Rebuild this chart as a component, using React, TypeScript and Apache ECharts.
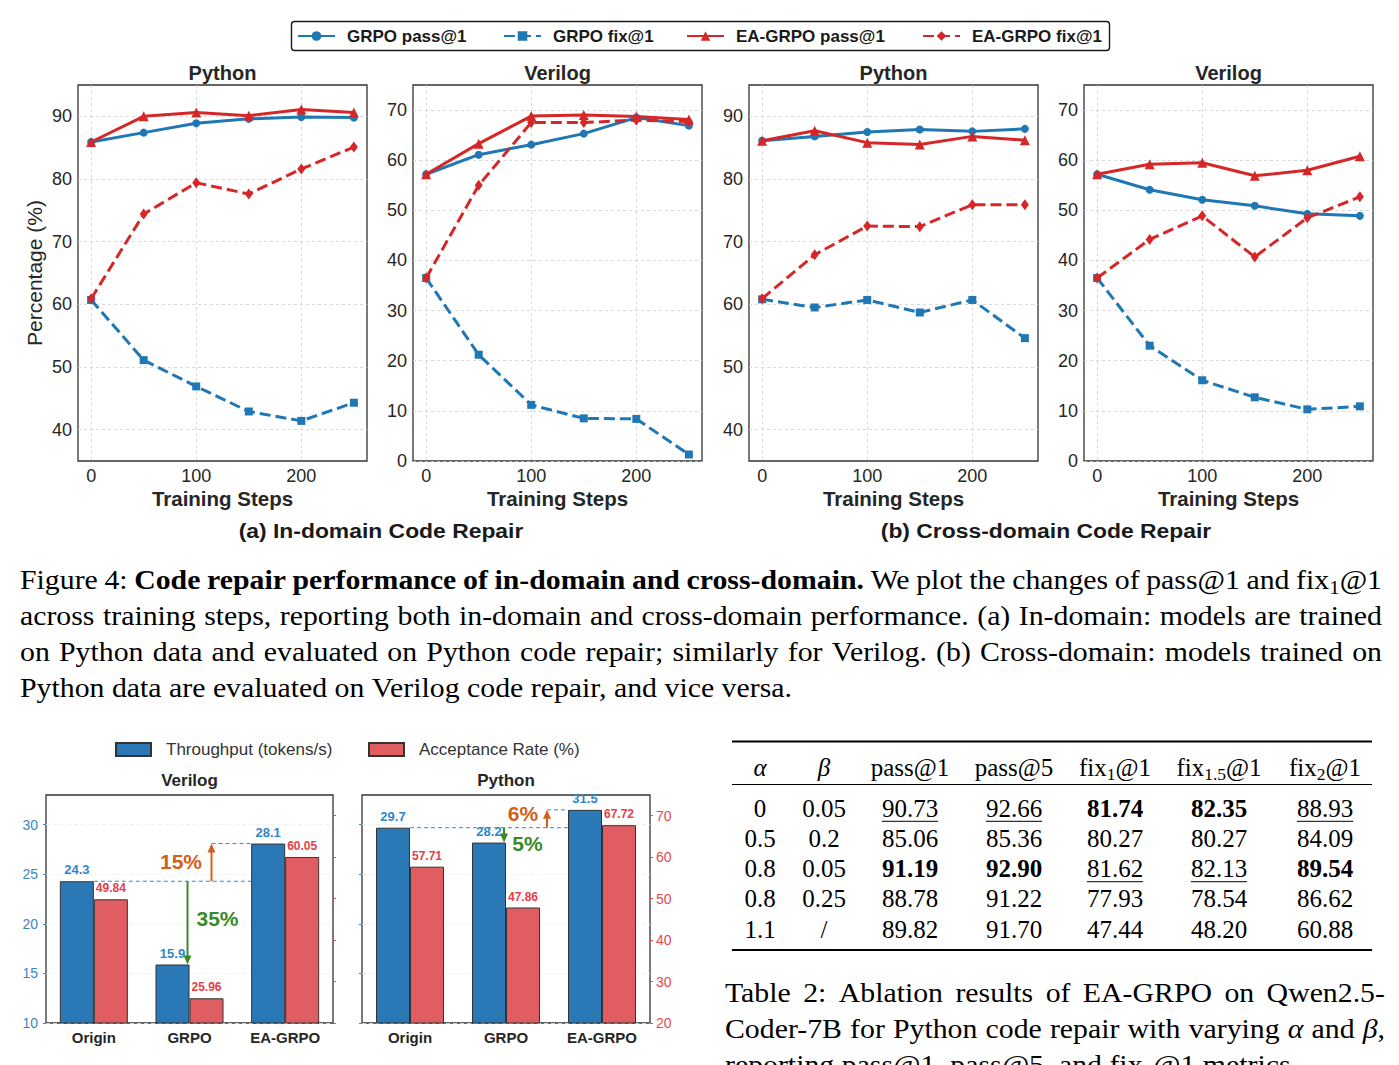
import React, { useEffect, useRef } from 'react';
import * as echarts from 'echarts';

// ---------------- data ----------------
const STEPS = [0, 50, 100, 150, 200, 250];
const STEP_TICKS = [0, 100, 200];
const PYTHON_TICKS = [40, 50, 60, 70, 80, 90];
const VERILOG_TICKS = [0, 10, 20, 30, 40, 50, 60, 70];

const SERIES_NAMES = ['GRPO pass@1', 'GRPO fix@1', 'EA-GRPO pass@1', 'EA-GRPO fix@1'];

// (a) in-domain, Python
const IN_PY_GRPO_PASS = [85.9, 87.4, 88.9, 89.6, 89.9, 89.8];
const IN_PY_GRPO_FIX = [60.7, 51.1, 46.9, 42.9, 41.4, 44.3];
const IN_PY_EA_PASS = [85.9, 90.0, 90.6, 90.1, 91.1, 90.6];
const IN_PY_EA_FIX = [60.9, 74.4, 79.4, 77.6, 81.6, 85.1];
// (a) in-domain, Verilog
const IN_VL_GRPO_PASS = [57.2, 61.1, 63.1, 65.3, 68.5, 66.9];
const IN_VL_GRPO_FIX = [36.5, 21.2, 11.2, 8.5, 8.4, 1.3];
const IN_VL_EA_PASS = [57.2, 63.3, 68.8, 69.0, 68.7, 68.1];
const IN_VL_EA_FIX = [36.5, 55.0, 67.5, 67.5, 68.0, 67.7];
// (b) cross-domain, Python
const CR_PY_GRPO_PASS = [86.1, 86.8, 87.5, 87.9, 87.6, 88.0];
const CR_PY_GRPO_FIX = [60.8, 59.5, 60.7, 58.7, 60.7, 54.6];
const CR_PY_EA_PASS = [86.1, 87.7, 85.8, 85.5, 86.8, 86.2];
const CR_PY_EA_FIX = [60.9, 67.9, 72.5, 72.4, 75.9, 75.9];
// (b) cross-domain, Verilog
const CR_VL_GRPO_PASS = [57.2, 54.1, 52.1, 50.9, 49.3, 48.9];
const CR_VL_GRPO_FIX = [36.5, 23.0, 16.1, 12.7, 10.3, 10.9];
const CR_VL_EA_PASS = [57.2, 59.2, 59.5, 56.9, 58.0, 60.8];
const CR_VL_EA_FIX = [36.5, 44.2, 48.9, 40.7, 48.5, 52.7];

const BAR_CATEGORIES = ['Origin', 'GRPO', 'EA-GRPO'];
const BAR_SERIES_NAMES = ['Throughput (tokens/s)', 'Acceptance Rate (%)'];
const VERILOG_THROUGHPUT = [24.3, 15.9, 28.1];
const VERILOG_ACCEPTANCE = [49.84, 25.96, 60.05];
const PYTHON_THROUGHPUT = [29.7, 28.2, 31.5];
const PYTHON_ACCEPTANCE = [57.71, 47.86, 67.72];
const THROUGHPUT_TICKS = [10, 15, 20, 25, 30];
const ACCEPTANCE_TICKS = [20, 30, 40, 50, 60, 70];
const VERILOG_CHANGES = ['15%', '35%']; // gain, drop
const PYTHON_CHANGES = ['6%', '5%'];

const TABLE_HEADER = ['$α$', '$β$', 'pass@1', 'pass@5', 'fix_{1}@1', 'fix_{1.5}@1', 'fix_{2}@1'];
const TABLE_ALPHA = ['0', '0.5', '0.8', '0.8', '1.1'];
const TABLE_BETA = ['0.05', '0.2', '0.05', '0.25', '/'];
const TABLE_PASS1 = ['90.73', '85.06', '91.19', '88.78', '89.82'];
const TABLE_PASS5 = ['92.66', '85.36', '92.90', '91.22', '91.70'];
const TABLE_FIX1 = ['81.74', '80.27', '81.62', '77.93', '47.44'];
const TABLE_FIX15 = ['82.35', '80.27', '82.13', '78.54', '48.20'];
const TABLE_FIX2 = ['88.93', '84.09', '89.54', '86.62', '60.88'];
const TABLE_BEST_ROW = [-1, -1, 2, 2, 0, 0, 2];
const TABLE_SECOND_ROW = [-1, -1, 0, 0, 2, 2, 0];

const FIGURE_CAPTION = [
  'Figure 4: **Code repair performance of in-domain and cross-domain.** We plot the changes of pass@1 and fix_{1}@1',
  'across training steps, reporting both in-domain and cross-domain performance. (a) In-domain: models are trained',
  'on Python data and evaluated on Python code repair; similarly for Verilog. (b) Cross-domain: models trained on',
  'Python data are evaluated on Verilog code repair, and vice versa.',
];
const TABLE_CAPTION = [
  'Table 2:  Ablation results of EA-GRPO on Qwen2.5-',
  'Coder-7B for Python code repair with varying $α$ and $β$,',
  'reporting pass@1, pass@5, and fix_{1}@1 metrics.',
];

// ---------------- look ----------------
const SANS = '"Liberation Sans", Arial, Helvetica, sans-serif';
const SERIF = '"Liberation Serif", "Times New Roman", Times, serif';
const BLUE = '#1f77b4';
const RED = '#d62728';
const INK = '#262626';
const BAR_BLUE = '#2a78b5';
const BAR_RED = '#e05e61';
const LABEL_BLUE = '#2f86cb';
const LABEL_RED = '#e63e46';
const TICK_BLUE = '#3a87c8';
const TICK_RED = '#e8484f';
const ORANGE = '#d2601a';
const GREEN = '#3a8a26';

const LINE_PANELS = [
  { title: 'Python', ticks: PYTHON_TICKS, range: [35, 95], data: [IN_PY_GRPO_PASS, IN_PY_GRPO_FIX, IN_PY_EA_PASS, IN_PY_EA_FIX] },
  { title: 'Verilog', ticks: VERILOG_TICKS, range: [0, 75], data: [IN_VL_GRPO_PASS, IN_VL_GRPO_FIX, IN_VL_EA_PASS, IN_VL_EA_FIX] },
  { title: 'Python', ticks: PYTHON_TICKS, range: [35, 95], data: [CR_PY_GRPO_PASS, CR_PY_GRPO_FIX, CR_PY_EA_PASS, CR_PY_EA_FIX] },
  { title: 'Verilog', ticks: VERILOG_TICKS, range: [0, 75], data: [CR_VL_GRPO_PASS, CR_VL_GRPO_FIX, CR_VL_EA_PASS, CR_VL_EA_FIX] },
];
const LINE_LEFT = [78, 413, 749, 1084];
const LINE_W = 289;
const LINE_TOP = 85;
const LINE_H = 376;

const LINE_LOOK: any[] = [
  { color: BLUE, dash: 'solid', symbol: 'circle', size: 8 },
  { color: BLUE, dash: [11, 5], symbol: 'rect', size: 8 },
  { color: RED, dash: 'solid', symbol: 'triangle', size: 10 },
  { color: RED, dash: [11, 5], symbol: 'diamond', size: [8, 11] },
];
const LEGEND_X = [297, 503, 686, 922];

const BAR_PANELS = [
  { title: 'Verilog', thr: VERILOG_THROUGHPUT, acc: VERILOG_ACCEPTANCE, changes: VERILOG_CHANGES },
  { title: 'Python', thr: PYTHON_THROUGHPUT, acc: PYTHON_ACCEPTANCE, changes: PYTHON_CHANGES },
];
const BAR_LEFT = [46, 362];
const BAR_W = [287, 288];
const BAR_TOP = 795;
const BAR_H = 228;
const BAR_WIDTH = 34;
const BAR_ANNOT = [
  { gainDx: 22, gainText: [-30.5, -1], dropDx: -2, dropText: [30, -4] },
  { gainDx: 41, gainText: [-24, -5], dropDx: -2, dropText: [23.5, 8.5] },
];

const TABLE_COLUMNS = [TABLE_ALPHA, TABLE_BETA, TABLE_PASS1, TABLE_PASS5, TABLE_FIX1, TABLE_FIX15, TABLE_FIX2];
const TABLE_COL_X = [760, 824, 910, 1014, 1115, 1219, 1325];

const CAPTION_SIZE = 26.5;
const CAPTION_SX = 1.125;

// ---------------- text helpers ----------------
let CTX: CanvasRenderingContext2D | null = null;
function measure(text: string, font: string): number {
  if (!CTX) CTX = document.createElement('canvas').getContext('2d');
  CTX!.font = font;
  return CTX!.measureText(text).width;
}
type Part = { t: string; bold?: boolean; italic?: boolean; sub?: boolean };
function partSize(p: Part, size: number) {
  return p.sub ? size * 0.7 : size;
}
function partFont(p: Part, size: number) {
  return `${p.italic ? 'italic ' : ''}${p.bold ? 'bold ' : ''}${partSize(p, size)}px ${SERIF}`;
}
function parseWord(word: string, bold: boolean): Part[] {
  const parts: Part[] = [];
  const re = /_\{([^}]*)\}|\$([^$]*)\$/g;
  let last = 0;
  let m: RegExpExecArray | null;
  while ((m = re.exec(word))) {
    if (m.index > last) parts.push({ t: word.slice(last, m.index), bold });
    if (m[1] !== undefined) parts.push({ t: m[1], bold, sub: true });
    else parts.push({ t: m[2], bold, italic: true });
    last = re.lastIndex;
  }
  if (last < word.length) parts.push({ t: word.slice(last), bold });
  return parts;
}
function parseLine(line: string): Part[][] {
  let bold = false;
  const words: Part[][] = [];
  for (let w of line.split(' ')) {
    if (!w) continue;
    if (w.startsWith('**')) {
      bold = true;
      w = w.slice(2);
    }
    const wb = bold;
    if (w.endsWith('**')) {
      w = w.slice(0, -2);
      bold = false;
    }
    words.push(parseWord(w, wb));
  }
  return words;
}
function partsWidth(parts: Part[], size: number, sx: number) {
  return parts.reduce((a, p) => a + measure(p.t, partFont(p, size)) * sx, 0);
}
function drawParts(els: any[], parts: Part[], x: number, y: number, size: number, sx: number, color: string) {
  let cx = x;
  for (const p of parts) {
    els.push({
      type: 'text',
      x: cx,
      y: y + (p.sub ? size * 0.28 : 0),
      scaleX: sx,
      silent: true,
      style: {
        text: p.t,
        fontFamily: SERIF,
        fontSize: partSize(p, size),
        fontWeight: p.bold ? 'bold' : 'normal',
        fontStyle: p.italic ? 'italic' : 'normal',
        fill: color,
        align: 'left',
        verticalAlign: 'middle',
      },
    });
    cx += measure(p.t, partFont(p, size)) * sx;
  }
  return cx - x;
}
function paragraph(els: any[], lines: string[], x0: number, x1: number, y0: number, dy: number, size: number, sx: number, justifyCount: number) {
  lines.forEach((line, li) => {
    const words = parseLine(line);
    const widths = words.map((w) => partsWidth(w, size, sx));
    const total = widths.reduce((a, b) => a + b, 0);
    const space = measure(' ', `${size}px ${SERIF}`) * sx;
    const gap = li < justifyCount && words.length > 1 ? (x1 - x0 - total) / (words.length - 1) : space;
    let x = x0;
    words.forEach((w, i) => {
      drawParts(els, w, x, y0 + li * dy, size, sx, '#000');
      x += widths[i] + gap;
    });
  });
}
function sansText(text: string, x: number, y: number, size: number, bold: boolean, color: string, sx = 1) {
  return {
    type: 'text',
    x,
    y,
    scaleX: sx,
    silent: true,
    style: {
      text,
      fontFamily: SANS,
      fontSize: size,
      fontWeight: bold ? 'bold' : 'normal',
      fill: color,
      align: 'center',
      verticalAlign: 'middle',
    },
  };
}

// ---------------- option ----------------
function buildOption() {
  const grid: any[] = [];
  const xAxis: any[] = [];
  const yAxis: any[] = [];
  const series: any[] = [];
  const gridLine = { show: true, lineStyle: { color: '#cfcfcf', width: 0.8, type: [3, 3] } };

  LINE_PANELS.forEach((p, i) => {
    grid.push({ left: LINE_LEFT[i], top: LINE_TOP, width: LINE_W, height: LINE_H, show: true, borderColor: '#333', borderWidth: 1.3 });
    xAxis.push({
      type: 'value', gridIndex: i, min: -12.5, max: 262.5,
      axisLine: { show: false, onZero: false },
      axisTick: { show: false, customValues: STEP_TICKS },
      axisLabel: { customValues: STEP_TICKS, fontSize: 18, color: INK, fontFamily: SANS, margin: 6 },
      splitLine: gridLine,
      name: 'Training Steps', nameLocation: 'middle', nameGap: 27,
      nameTextStyle: { fontSize: 20.5, fontWeight: 'bold', color: INK, fontFamily: SANS },
    });
    yAxis.push({
      type: 'value', gridIndex: i, min: p.range[0], max: p.range[1],
      axisLine: { show: false, onZero: false },
      axisTick: { show: false, customValues: p.ticks },
      axisLabel: { customValues: p.ticks, fontSize: 18, color: INK, fontFamily: SANS, margin: 6 },
      splitLine: gridLine,
      ...(i === 0
        ? { name: 'Percentage (%)', nameLocation: 'middle', nameGap: 33, nameTextStyle: { fontSize: 21, color: INK, fontFamily: SANS } }
        : {}),
    });
    LINE_LOOK.forEach((lk, k) => {
      series.push({
        type: 'line', name: SERIES_NAMES[k], xAxisIndex: i, yAxisIndex: i,
        data: STEPS.map((s, j) => [s, p.data[k][j]]),
        symbol: lk.symbol, symbolSize: lk.size,
        lineStyle: { color: lk.color, width: 3, type: lk.dash },
        itemStyle: { color: lk.color },
        z: 2 + k, silent: true,
      });
    });
  });

  BAR_PANELS.forEach((b, j) => {
    const gi = 4 + j;
    const yl = 4 + 2 * j;
    grid.push({ left: BAR_LEFT[j], top: BAR_TOP, width: BAR_W[j], height: BAR_H, show: true, borderColor: '#333', borderWidth: 1.3 });
    xAxis.push({
      type: 'category', gridIndex: gi, data: BAR_CATEGORIES,
      axisLine: { show: false, onZero: false }, axisTick: { show: false },
      axisLabel: { fontSize: 15, fontWeight: 'bold', color: INK, fontFamily: SANS, margin: 7 },
      splitLine: { show: false },
    });
    yAxis.push({
      type: 'value', gridIndex: gi, position: 'left', min: 10, max: 33,
      axisLine: { show: false, onZero: false },
      axisTick: { show: true, length: 3, customValues: THROUGHPUT_TICKS, lineStyle: { color: TICK_BLUE, width: 1 } },
      axisLabel: { show: j === 0, customValues: THROUGHPUT_TICKS, color: TICK_BLUE, fontSize: 14, fontFamily: SANS, margin: 8 },
      splitLine: { show: true, lineStyle: { color: '#ececec', width: 0.8, type: [4, 3] } },
    });
    yAxis.push({
      type: 'value', gridIndex: gi, position: 'right', min: 20, max: 75,
      axisLine: { show: false, onZero: false },
      axisTick: { show: true, length: 3, customValues: ACCEPTANCE_TICKS, lineStyle: { color: TICK_RED, width: 1 } },
      axisLabel: { show: j === 1, customValues: ACCEPTANCE_TICKS, color: TICK_RED, fontSize: 14, fontFamily: SANS, margin: 6 },
      splitLine: { show: false },
    });
    series.push({
      type: 'bar', name: BAR_SERIES_NAMES[0], xAxisIndex: gi, yAxisIndex: yl, data: b.thr,
      barWidth: BAR_WIDTH, barGap: '0%', silent: true,
      itemStyle: { color: BAR_BLUE, borderColor: '#333', borderWidth: 1 },
      label: { show: true, position: 'top', distance: 5, color: LABEL_BLUE, fontWeight: 'bold', fontSize: 13, fontFamily: SANS },
    });
    series.push({
      type: 'bar', name: BAR_SERIES_NAMES[1], xAxisIndex: gi, yAxisIndex: yl + 1, data: b.acc,
      barWidth: BAR_WIDTH, barGap: '0%', silent: true,
      itemStyle: { color: BAR_RED, borderColor: '#333', borderWidth: 1 },
      label: { show: true, position: 'top', distance: 5, color: LABEL_RED, fontWeight: 'bold', fontSize: 12, fontFamily: SANS },
    });
  });

  const legend: any[] = SERIES_NAMES.map((n, i) => ({
    data: [n], left: LEGEND_X[i], top: 27.5, itemWidth: 37, itemHeight: 12, padding: 0,
    selectedMode: false,
    textStyle: { fontFamily: SANS, fontWeight: 'bold', fontSize: 17, color: '#1a1a1a', padding: [0, 0, 0, 7] },
  }));
  [115, 368].forEach((lx, i) =>
    legend.push({
      data: [BAR_SERIES_NAMES[i]], left: lx, top: 741, itemWidth: 35, itemHeight: 13, padding: 0,
      icon: 'rect', selectedMode: false,
      textStyle: { fontFamily: SANS, fontSize: 17, color: '#333', padding: [0, 0, 0, 10] },
    })
  );

  return { animation: false, textStyle: { fontFamily: SANS }, legend, grid, xAxis, yAxis, series };
}

function buildGraphics(chart: any) {
  const els: any[] = [];
  // legend frame
  els.push({ type: 'rect', shape: { x: 291.5, y: 21.5, width: 818, height: 29, r: 3 }, style: { fill: 'none', stroke: '#1a1a1a', lineWidth: 1.4 }, silent: true, z: -1 });
  // panel titles
  LINE_PANELS.forEach((p, i) => els.push(sansText(p.title, LINE_LEFT[i] + LINE_W / 2, 73, 20, true, INK)));
  els.push(sansText('(a) In-domain Code Repair', 381, 531, 21, true, '#1a1a1a', 1.09));
  els.push(sansText('(b) Cross-domain Code Repair', 1046, 531, 21, true, '#1a1a1a', 1.09));
  BAR_PANELS.forEach((b, j) => els.push(sansText(b.title, BAR_LEFT[j] + BAR_W[j] / 2, 780, 17, true, INK)));

  // bar annotations (positions from the axes)
  const dashed = (x0: number, x1: number, y: number) =>
    els.push({ type: 'line', shape: { x1: x0, y1: y, x2: x1, y2: y }, style: { stroke: TICK_BLUE, lineWidth: 1, lineDash: [4, 3] }, silent: true });
  const arrow = (x: number, y0: number, y1: number, color: string) => {
    const dir = y1 > y0 ? 1 : -1;
    els.push({ type: 'line', shape: { x1: x, y1: y0, x2: x, y2: y1 - dir * 7 }, style: { stroke: color, lineWidth: 2 }, silent: true });
    els.push({ type: 'polygon', shape: { points: [[x, y1], [x - 4, y1 - dir * 9], [x + 4, y1 - dir * 9]] }, style: { fill: color }, silent: true });
  };
  BAR_PANELS.forEach((b, j) => {
    const xi = 4 + j;
    const yi = 4 + 2 * j;
    const cx = (c: string) => chart.convertToPixel({ xAxisIndex: xi }, c) as number;
    const cy = (v: number) => chart.convertToPixel({ yAxisIndex: yi }, v) as number;
    const c0 = cx(BAR_CATEGORIES[0]);
    const c1 = cx(BAR_CATEGORIES[1]);
    const c2 = cx(BAR_CATEGORIES[2]);
    const yO = cy(b.thr[0]);
    const yG = cy(b.thr[1]);
    const yE = cy(b.thr[2]);
    const L = BAR_ANNOT[j];
    const endX = c2 - BAR_WIDTH;
    const gx = c1 + L.gainDx;
    const dx = c1 + L.dropDx;
    dashed(c0, endX, yO);
    dashed(gx, endX, yE);
    arrow(gx, yO, yE, ORANGE);
    arrow(dx, yO, yG, GREEN);
    els.push(sansText(b.changes[0], gx + L.gainText[0], (yO + yE) / 2 + L.gainText[1], 21, true, ORANGE));
    els.push(sansText(b.changes[1], dx + L.dropText[0], (yO + yG) / 2 + L.dropText[1], 21, true, GREEN));
  });

  // figure caption
  paragraph(els, FIGURE_CAPTION, 20, 1382, 580.5, 36, CAPTION_SIZE, CAPTION_SX, 3);

  // table
  const rule = (y: number, w: number) =>
    els.push({ type: 'line', shape: { x1: 732, y1: y, x2: 1372, y2: y }, style: { stroke: '#000', lineWidth: w }, silent: true });
  rule(741.5, 2);
  rule(784.5, 1.2);
  rule(950, 2);
  const TS = 25;
  TABLE_HEADER.forEach((h, c) => {
    const parts = parseWord(h, false);
    const w = partsWidth(parts, TS, 1);
    drawParts(els, parts, TABLE_COL_X[c] - w / 2, 767, TS, 1, '#000');
  });
  TABLE_COLUMNS.forEach((col, c) => {
    col.forEach((v, r) => {
      const parts = parseWord(v, TABLE_BEST_ROW[c] === r);
      const w = partsWidth(parts, TS, 1);
      const y = 808.3 + r * 30.2;
      drawParts(els, parts, TABLE_COL_X[c] - w / 2, y, TS, 1, '#000');
      if (TABLE_SECOND_ROW[c] === r) {
        els.push({ type: 'line', shape: { x1: TABLE_COL_X[c] - w / 2, y1: y + 13, x2: TABLE_COL_X[c] + w / 2, y2: y + 13 }, style: { stroke: '#000', lineWidth: 1 }, silent: true });
      }
    });
  });
  paragraph(els, TABLE_CAPTION, 725, 1385, 993.2, 36, CAPTION_SIZE, CAPTION_SX, 2);
  return els;
}

export default function App() {
  const ref = useRef<HTMLDivElement>(null);
  useEffect(() => {
    const chart = echarts.init(ref.current!, null, { renderer: 'svg' });
    chart.setOption(buildOption());
    chart.setOption({ graphic: { elements: buildGraphics(chart) } });
    return () => chart.dispose();
  }, []);
  return (
    <div
      ref={ref}
      style={{ position: 'absolute', left: 0, top: 0, width: 1399, height: 1065, background: '#fff' }}
    />
  );
}
